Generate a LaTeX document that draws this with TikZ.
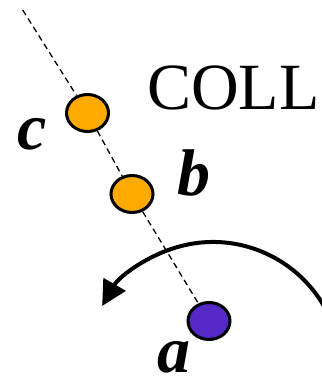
\documentclass[tikz,border=0pt]{standalone}
\usepackage{fontspec}
\setmainfont{Liberation Serif}
\usepackage{tikz}
\usetikzlibrary{shapes.geometric}
\usetikzlibrary{arrows.meta}
\definecolor{partorange}{RGB}{255,170,0}
\definecolor{partpurple}{RGB}{85,40,200}
\tikzset{
  particle/.style={ellipse, draw=black, line width=3pt, minimum width=42pt, minimum height=37pt, inner sep=0pt},
  lbl/.style={anchor=base west, inner sep=0pt, font=\fontsize{66}{66}\selectfont\bfseries\itshape},
  axis/.style={line width=1.3pt, dash pattern=on 6pt off 4pt}
}
\begin{document}
\begin{tikzpicture}[x=1pt,y=1pt]
  \useasboundingbox (0,0) rectangle (322,376);
  \clip (0,0) rectangle (322,376);

  \coordinate (top) at (22.7,366);
  \node[particle, fill=partorange] (c) at (87.5,263) {};
  \node[particle, fill=partorange] (b) at (132,182) {};
  \node[particle, fill=partpurple] (a) at (209,55) {};

  \draw[axis] (top) -- (c);
  \draw[axis] (c) -- (b);
  \draw[axis] (b) -- (a);

  \node[lbl] (lc) at (17,226) {c};
  \node[lbl] (lb) at (177,181) {b};
  \node[lbl] (la) at (157,3) {a};
  \node[anchor=base west, inner sep=0pt, font=\fontsize{66}{66}\selectfont] (coll) at (147,266) {COLL};

  \coordinate (rot) at (213,6);
  \draw[line width=4pt, -{Triangle[length=25pt,width=25pt]}] ([shift={(15:128)}]rot) arc[start angle=15, end angle=150, radius=128];
\end{tikzpicture}
\end{document}
